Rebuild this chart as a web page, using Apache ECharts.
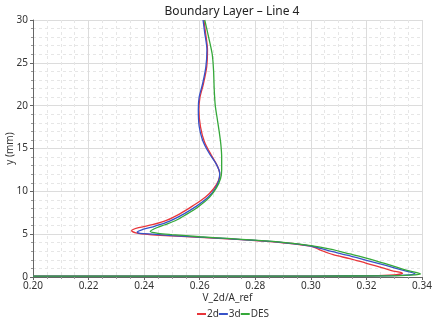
<!DOCTYPE html>
<html>
<head>
<meta charset="utf-8">
<script src="https://cdn.jsdelivr.net/npm/echarts@6/dist/echarts.min.js"></script>
<style>
  html, body { margin: 0; padding: 0; background: #fff; }
  #chart { width: 433px; height: 322px; }
</style>
</head>
<body>
<div id="chart"></div>
<script>
// profiles as [V_2d/A_ref, y (mm)] pairs, ordered from the wall upward
const seriesNames = ["2d", "3d", "DES"];
const colors = ["#e8353a", "#3752c8", "#35a83a"];

const profile2d = [
  [0.200, 0.10], [0.260, 0.10], [0.300, 0.11], [0.322, 0.14], [0.330, 0.25], [0.333, 0.45],
  [0.329, 0.75], [0.324, 1.25], [0.320, 1.60], [0.314, 2.15], [0.308, 2.60], [0.303, 3.20],
  [0.300, 3.60], [0.290, 4.00], [0.280, 4.25], [0.270, 4.45], [0.260, 4.62], [0.250, 4.80],
  [0.242, 4.95], [0.237, 5.15], [0.2355, 5.40], [0.238, 5.75], [0.243, 6.10], [0.248, 6.60],
  [0.253, 7.40], [0.2575, 8.30], [0.262, 9.30], [0.265, 10.30], [0.2668, 11.30], [0.2672, 12.00],
  [0.2663, 13.00], [0.2642, 14.20], [0.2617, 15.80], [0.2603, 17.50], [0.2597, 19.50],
  [0.2601, 21.00], [0.2613, 22.50], [0.2625, 24.50], [0.2628, 26.50], [0.2621, 28.50], [0.2615, 30.00]
];

const profile3d = [
  [0.200, 0.10], [0.260, 0.10], [0.300, 0.11], [0.326, 0.14], [0.334, 0.22], [0.3375, 0.38],
  [0.333, 0.80], [0.327, 1.35], [0.320, 1.95], [0.313, 2.55], [0.306, 3.10], [0.300, 3.62],
  [0.290, 4.02], [0.280, 4.27], [0.270, 4.47], [0.260, 4.65], [0.250, 4.84], [0.243, 5.00],
  [0.2385, 5.10], [0.2375, 5.25], [0.2395, 5.55], [0.244, 5.95], [0.249, 6.50], [0.2545, 7.40],
  [0.259, 8.30], [0.263, 9.30], [0.2655, 10.30], [0.2669, 11.30], [0.2672, 12.10],
  [0.2659, 13.20], [0.2633, 14.50], [0.2610, 16.00], [0.2598, 17.60], [0.2595, 19.50],
  [0.2598, 21.00], [0.2610, 22.50], [0.2622, 24.50], [0.2626, 26.50], [0.2618, 28.50], [0.2612, 30.00]
];

const profileDES = [
  [0.200, 0.10], [0.260, 0.10], [0.300, 0.11], [0.328, 0.14], [0.336, 0.22], [0.3395, 0.35],
  [0.335, 0.75], [0.328, 1.45], [0.3213, 2.10], [0.314, 2.70], [0.307, 3.25], [0.300, 3.66],
  [0.290, 4.05], [0.280, 4.30], [0.270, 4.50], [0.260, 4.70], [0.250, 4.95], [0.245, 5.10],
  [0.2422, 5.30], [0.2435, 5.60], [0.2475, 6.10], [0.2517, 6.65], [0.2547, 7.20], [0.2595, 8.20],
  [0.2635, 9.30], [0.2660, 10.40], [0.2675, 11.50], [0.2679, 12.50], [0.2679, 14.00],
  [0.2676, 15.50], [0.2670, 17.00], [0.2663, 18.50], [0.2656, 20.00], [0.2652, 22.00],
  [0.2650, 24.00], [0.2645, 26.00], [0.2632, 28.00], [0.2618, 30.00]
];

const profiles = [profile2d, profile3d, profileDES];

const chart = echarts.init(document.getElementById("chart"));

const axisText = { color: "#333", fontSize: 10, fontFamily: "Noto Sans" };

chart.setOption({
  animation: false,
  title: {
    text: "Boundary Layer \u2013 Line 4",
    left: 227,
    textAlign: "center",
    top: 1,
    textStyle: { fontSize: 12, fontWeight: "normal", color: "#222", fontFamily: "Noto Sans" }
  },
  legend: {
    data: seriesNames,
    bottom: -2,
    left: 192,
    itemWidth: 9,
    itemHeight: 2,
    itemGap: 0,
    icon: "rect",
    textStyle: { fontSize: 10, color: "#333", fontFamily: "Noto Sans", padding: [0, 0, 0, -4] }
  },
  grid: { left: 33, right: 11, top: 20, bottom: 45, outerBoundsMode: "none", containLabel: false },
  xAxis: {
    type: "value",
    min: 0.2,
    max: 0.34,
    interval: 0.02,
    name: "V_2d/A_ref",
    nameLocation: "middle",
    nameGap: 16,
    nameMoveOverlap: false,
    nameTextStyle: axisText,
    axisLine: { lineStyle: { color: "#666" } },
    axisTick: { show: true, length: 3, lineStyle: { color: "#666" } },
    axisLabel: Object.assign({ margin: 4, formatter: v => v.toFixed(2) }, axisText),
    splitLine: { lineStyle: { color: "#dcdcdc" } },
    minorTick: { show: true, splitNumber: 4, length: 2, lineStyle: { color: "#999" } },
    minorSplitLine: { show: true, lineStyle: { color: "#e6e6e6", type: [3, 3] } }
  },
  yAxis: {
    type: "value",
    min: 0,
    max: 30,
    interval: 5,
    name: "y (mm)",
    nameLocation: "middle",
    nameGap: 18,
    nameMoveOverlap: false,
    nameTextStyle: axisText,
    axisLine: { show: true, lineStyle: { color: "#666" } },
    axisTick: { show: true, length: 3, lineStyle: { color: "#666" } },
    axisLabel: Object.assign({ margin: 5 }, axisText),
    splitLine: { lineStyle: { color: "#dcdcdc" } },
    minorTick: { show: true, splitNumber: 5, length: 2, lineStyle: { color: "#999" } },
    minorSplitLine: { show: true, lineStyle: { color: "#e6e6e6", type: [3, 3] } }
  },
  series: seriesNames.map((name, i) => ({
    name: name,
    type: "line",
    data: profiles[i],
    showSymbol: false,
    smooth: 0.3,
    clip: true,
    color: colors[i],
    lineStyle: { width: 1.3, color: colors[i] },
    z: 2 + i
  }))
});
</script>
</body>
</html>
